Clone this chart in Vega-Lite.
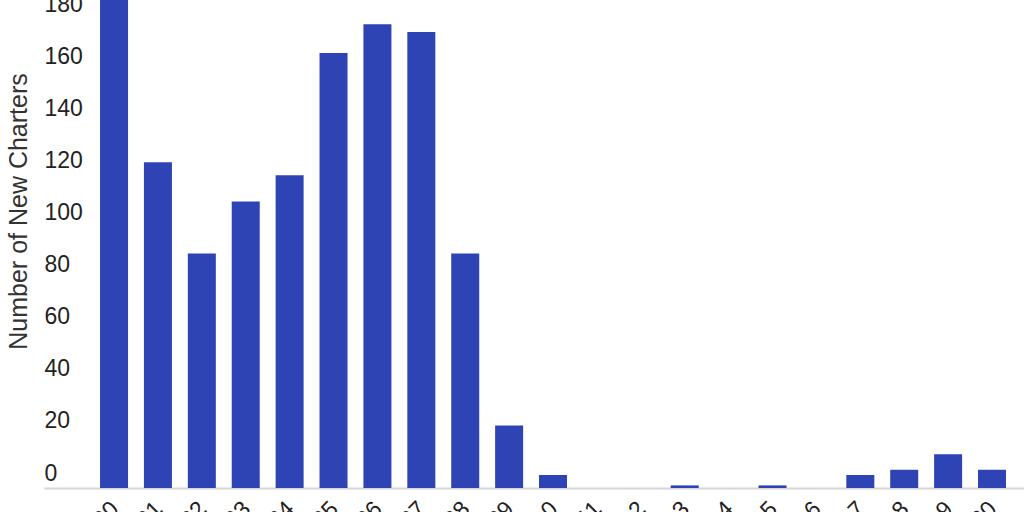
{
  "$schema": "https://vega.github.io/schema/vega-lite/v6.json",
  "width": 980,
  "height": 488,
  "autosize": {"type": "none"},
  "padding": {"left": 44, "top": 0, "right": 0, "bottom": 24},
  "background": "white",
  "config": {"view": {"stroke": null}, "font": "Liberation Sans"},
  "data": {
    "values": [
      {"year": "2000", "charters": 195},
      {"year": "2001", "charters": 125},
      {"year": "2002", "charters": 90},
      {"year": "2003", "charters": 110},
      {"year": "2004", "charters": 120},
      {"year": "2005", "charters": 167},
      {"year": "2006", "charters": 178},
      {"year": "2007", "charters": 175},
      {"year": "2008", "charters": 90},
      {"year": "2009", "charters": 24},
      {"year": "2010", "charters": 5},
      {"year": "2011", "charters": 0},
      {"year": "2012", "charters": 0},
      {"year": "2013", "charters": 1},
      {"year": "2014", "charters": 0},
      {"year": "2015", "charters": 1},
      {"year": "2016", "charters": 0},
      {"year": "2017", "charters": 5},
      {"year": "2018", "charters": 7},
      {"year": "2019", "charters": 13},
      {"year": "2020", "charters": 7}
    ]
  },
  "mark": {"type": "bar", "color": "#2E43B4", "clip": true},
  "encoding": {
    "x": {
      "field": "year",
      "type": "ordinal",
      "scale": {"paddingInner": 0.362, "paddingOuter": 0.843, "align": 0.757},
      "axis": {
        "title": null,
        "labelAngle": -45,
        "labelAlign": "right",
        "labelBaseline": "middle",
        "labelPadding": 17,
        "labelOffset": 1,
        "ticks": false,
        "domainColor": "#d6d6d6",
        "domainWidth": 2,
        "labelFontSize": 23,
        "labelColor": "#222222"
      }
    },
    "y": {
      "field": "charters",
      "type": "quantitative",
      "scale": {"domain": [0, 187.3], "nice": false},
      "axis": {
        "title": "Number of New Charters",
        "values": [0, 20, 40, 60, 80, 100, 120, 140, 160, 180],
        "ticks": false,
        "tickSize": 0,
        "domain": false,
        "grid": false,
        "labelAlign": "left",
        "labelPadding": 0,
        "labelBaseline": "middle",
        "labelOffset": -15,
        "labelFontSize": 23,
        "labelColor": "#222222",
        "titleFontSize": 25,
        "titleFontWeight": "normal",
        "titleColor": "#333333",
        "titleX": -26,
        "titleY": 211,
        "titleAngle": -90,
        "titleAlign": "center",
        "titleBaseline": "middle"
      }
    }
  }
}
